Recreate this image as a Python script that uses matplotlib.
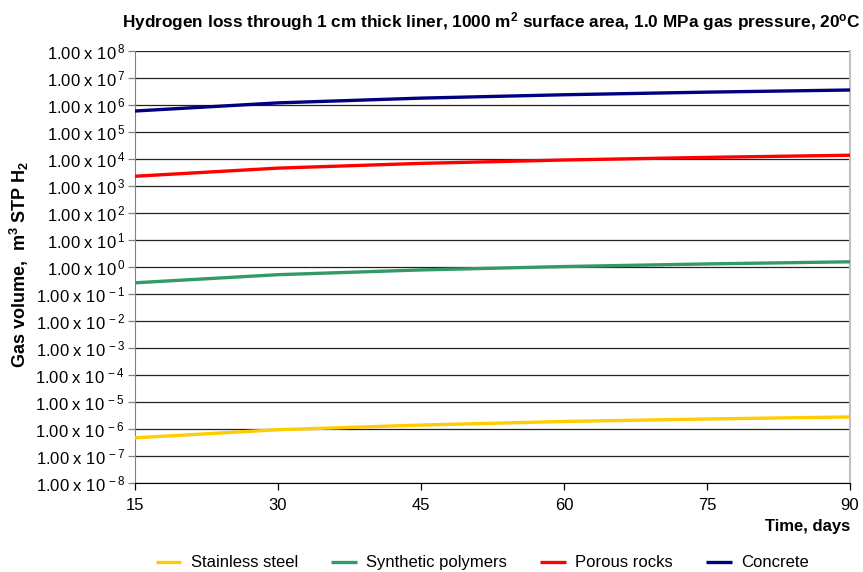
import numpy as np
import matplotlib.pyplot as plt

plt.rcParams["font.family"] = ["Liberation Sans", "DejaVu Sans"]
plt.rcParams["mathtext.default"] = "regular"

days = [15, 30, 45, 60, 75, 90]
stainless_steel = [4.7e-7, 9.4e-7, 1.4e-6, 1.9e-6, 2.35e-6, 2.8e-6]
synthetic_polymers = [0.26, 0.52, 0.78, 1.04, 1.3, 1.56]
porous_rocks = [2.3e3, 4.6e3, 6.9e3, 9.2e3, 1.15e4, 1.38e4]
concrete = [6.0e5, 1.2e6, 1.8e6, 2.4e6, 3.0e6, 3.6e6]

series = [
    ("Stainless steel", stainless_steel, "#FFCC00"),
    ("Synthetic polymers", synthetic_polymers, "#339966"),
    ("Porous rocks", porous_rocks, "#FF0000"),
    ("Concrete", concrete, "#000080"),
]

exponents = list(range(-8, 9))

fig = plt.figure(figsize=(8.63, 5.72), dpi=100)
ax = fig.add_axes([0.1564, 0.1556, 0.985 - 0.1564, 0.9108 - 0.1556])

for name, values, color in series:
    ax.plot(days, values, color=color, lw=2.4, label=name, solid_capstyle="butt", zorder=3)

ax.set_yscale("log")
ax.set_ylim(1e-8, 1e8)
ax.set_xlim(15, 90)
ax.set_xticks(days)
ax.set_xticklabels([str(d) for d in days], fontsize=12)
ax.set_yticks([10.0 ** e for e in exponents])
ax.set_yticklabels([r"1.00 x 10$^{\,%d}$" % e for e in exponents], fontsize=12)
ax.yaxis.set_minor_locator(plt.NullLocator())

for e in exponents:
    ax.axhline(10.0 ** e, color="#222222", lw=0.9, zorder=1)

ax.spines["top"].set_visible(False)
ax.spines["left"].set_color("#808080")
ax.spines["right"].set_color("#c0c0c0")
ax.spines["right"].set_linewidth(1.5)
ax.spines["bottom"].set_color("black")
ax.tick_params(axis="y", length=5, width=0.9, color="#808080", pad=2)
ax.tick_params(axis="x", length=5, width=0.9, pad=6)

fig.text(0.569, 0.962, r"Hydrogen loss through 1 cm thick liner, 1000 m$^{2}$ surface area, "
         r"1.0 MPa gas pressure, 20$^{o}$C",
         ha="center", va="center", fontsize=12.4, fontweight="bold",
         family=["Liberation Sans Narrow", "Liberation Sans"])

fig.text(0.023, 0.538, r"Gas volume,  m$^{3}$ STP H$_{2}$", rotation=90,
         ha="center", va="center", fontsize=13, fontweight="bold")
fig.text(0.985, 0.079, "Time, days", ha="right", va="center", fontsize=12, fontweight="bold")

fig.legend(loc="center", bbox_to_anchor=(0.559, 0.016), ncol=4, frameon=False,
           fontsize=12, handlelength=1.55, columnspacing=2.0, handletextpad=0.55)

fig.savefig("out.png", dpi=100)
